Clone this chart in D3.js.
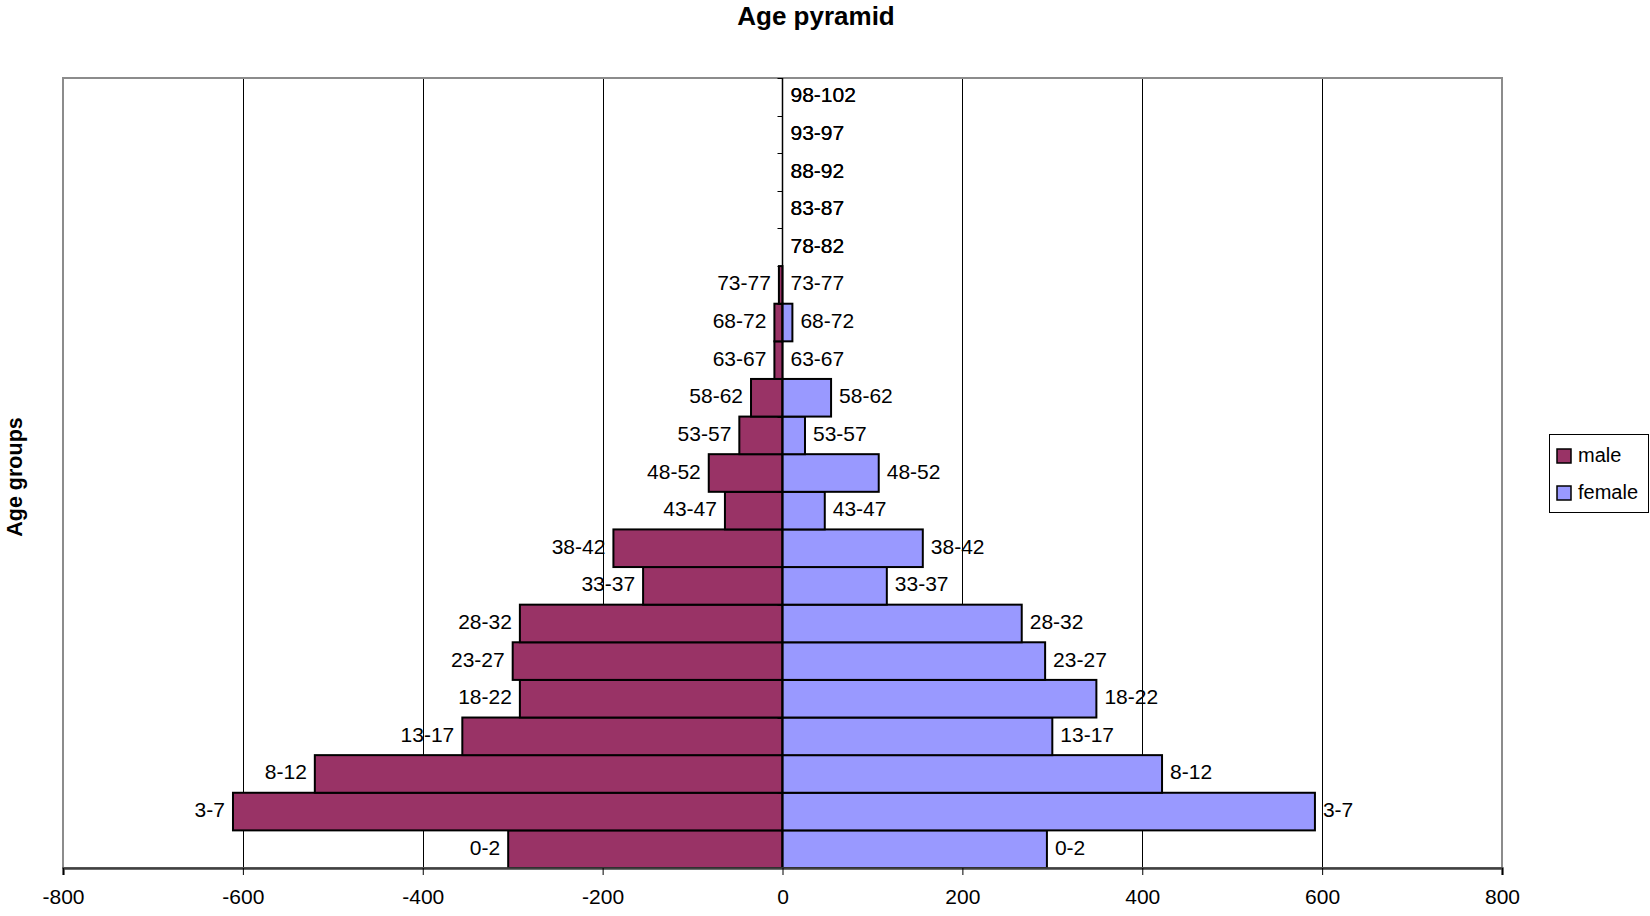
<!DOCTYPE html>
<html>
<head>
<meta charset="utf-8">
<script src="https://cdn.jsdelivr.net/npm/d3@7"></script>
<style>
  html, body { margin: 0; padding: 0; background: #fff; }
  svg { display: block; font-family: "Liberation Sans", Arial, sans-serif; }
</style>
</head>
<body>
<svg id="chart" width="1650" height="916"></svg>
<script>
// Age groups, bottom (youngest) to top (oldest)
const ageGroups = ["0-2","3-7","8-12","13-17","18-22","23-27","28-32","33-37","38-42","43-47",
  "48-52","53-57","58-62","63-67","68-72","73-77","78-82","83-87","88-92","93-97","98-102"];
// Head counts per group
const maleCounts   = [305, 611, 520, 356, 292, 300, 292, 155, 188, 64, 82, 48, 35, 9, 9, 4, 0, 0, 0, 0, 0];
const femaleCounts = [294, 592, 422, 300, 349, 292, 266, 116, 156, 47, 107, 25, 54, 0, 11, 0, 0, 0, 0, 0, 0];
// Horizontal axis ticks
const xTicks = [-800, -600, -400, -200, 0, 200, 400, 600, 800];
const xTickLabels = ["-800", "-600", "-400", "-200", "0", "200", "400", "600", "800"];
const seriesNames = ["male", "female"];
const seriesColors = ["#993366", "#9999FF"];

const svg = d3.select("#chart");
const plot = { left: 63, right: 1502, top: 78, bottom: 868 };

const x = d3.scaleLinear().domain([-800, 800]).range([plot.left, plot.right]);
const y = d3.scaleBand().domain(ageGroups.slice().reverse()).range([plot.top, plot.bottom]).padding(0);
const crisp = v => Math.round(v) + 0.5;

// Title
svg.append("text")
  .attr("x", 816).attr("y", 25)
  .attr("text-anchor", "middle")
  .attr("font-size", 26).attr("font-weight", "bold")
  .text("Age pyramid");

// Vertical axis title
svg.append("text")
  .attr("transform", "translate(15,477) rotate(-90)")
  .attr("text-anchor", "middle")
  .attr("dominant-baseline", "central")
  .attr("font-size", 21.5).attr("font-weight", "bold")
  .text("Age groups");

// Gridlines
svg.append("g").selectAll("line")
  .data(xTicks.filter(v => v !== 0 && v !== -800 && v !== 800))
  .join("line")
  .attr("x1", d => crisp(x(d))).attr("x2", d => crisp(x(d)))
  .attr("y1", plot.top).attr("y2", plot.bottom)
  .attr("stroke", "#000").attr("stroke-width", 1);

// Plot-area frame
svg.append("rect")
  .attr("x", plot.left).attr("y", plot.top)
  .attr("width", plot.right - plot.left).attr("height", plot.bottom - plot.top)
  .attr("fill", "none").attr("stroke", "#8c8c8c").attr("stroke-width", 2);

const rows = ageGroups.map((g, i) => ({ group: g, male: maleCounts[i], female: femaleCounts[i] }));

// Male bars extend left (negative), female bars extend right
const bars = svg.append("g").attr("stroke", "#000").attr("stroke-width", 2);
bars.selectAll("rect.male").data(rows.filter(r => r.male > 0)).join("rect")
  .attr("class", "male")
  .attr("x", d => x(-d.male)).attr("width", d => x(0) - x(-d.male))
  .attr("y", d => y(d.group)).attr("height", y.bandwidth())
  .attr("fill", seriesColors[0]);
bars.selectAll("rect.female").data(rows.filter(r => r.female > 0)).join("rect")
  .attr("class", "female")
  .attr("x", x(0)).attr("width", d => x(d.female) - x(0))
  .attr("y", d => y(d.group)).attr("height", y.bandwidth())
  .attr("fill", seriesColors[1]);

// Category axis along zero, ticks on band boundaries
const catAxis = svg.append("g");
catAxis.append("line")
  .attr("x1", x(0)).attr("x2", x(0))
  .attr("y1", plot.top).attr("y2", plot.bottom)
  .attr("stroke", "#000").attr("stroke-width", 1.5);
catAxis.selectAll("line.tick").data(ageGroups).join("line")
  .attr("class", "tick")
  .attr("x1", x(0) - 5).attr("x2", x(0))
  .attr("y1", d => crisp(y(d))).attr("y2", d => crisp(y(d)))
  .attr("stroke", "#000").attr("stroke-width", 1);

// Bar-end labels
const labelY = d => y(d.group) + y.bandwidth() / 2 - 2;
const labels = svg.append("g").attr("font-size", 21).attr("fill", "#000");
labels.selectAll("text.male").data(rows).join("text")
  .attr("class", "male")
  .attr("x", d => d.male > 0 ? x(-d.male) - 8 : x(0) + 8)
  .attr("y", labelY)
  .attr("text-anchor", d => d.male > 0 ? "end" : "start")
  .attr("dominant-baseline", "central")
  .text(d => d.group);
labels.selectAll("text.female").data(rows).join("text")
  .attr("class", "female")
  .attr("x", d => x(d.female) + 8)
  .attr("y", labelY)
  .attr("text-anchor", "start")
  .attr("dominant-baseline", "central")
  .text(d => d.group);

// Value axis
const xAxis = d3.axisBottom(x)
  .tickValues(xTicks)
  .tickFormat((d, i) => xTickLabels[i])
  .tickSize(7)
  .tickPadding(14);
const gx = svg.append("g").attr("transform", `translate(0,${plot.bottom})`).call(xAxis);
gx.select(".domain").attr("stroke", "#404040").attr("stroke-width", 2.5);
gx.selectAll(".tick line").attr("stroke", "#000");
gx.selectAll(".tick text")
  .attr("font-family", "'Liberation Sans', Arial, sans-serif")
  .attr("font-size", 21).attr("fill", "#000");

// Legend
const legend = svg.append("g");
legend.append("rect")
  .attr("x", 1549.5).attr("y", 434.5).attr("width", 99).attr("height", 78)
  .attr("fill", "#fff").attr("stroke", "#000").attr("stroke-width", 1);
seriesNames.forEach((name, i) => {
  legend.append("rect")
    .attr("x", 1557).attr("y", 449 + i * 37).attr("width", 14).attr("height", 14)
    .attr("fill", seriesColors[i]).attr("stroke", "#000").attr("stroke-width", 1.5);
  legend.append("text")
    .attr("x", 1578).attr("y", 455 + i * 37)
    .attr("dominant-baseline", "central")
    .attr("font-size", 20)
    .text(name);
});
</script>
</body>
</html>
